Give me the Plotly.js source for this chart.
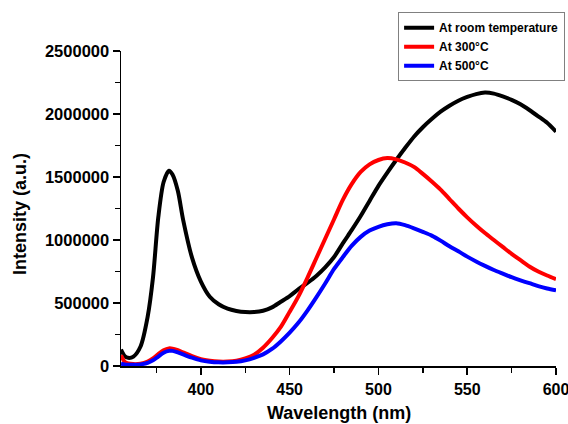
<!DOCTYPE html>
<html>
<head>
<meta charset="utf-8">
<script src="https://cdn.plot.ly/plotly-3.0.1.min.js"></script>
<style>
  html, body { margin: 0; padding: 0; background: #fff; }
  #chart { width: 568px; height: 424px; }
</style>
</head>
<body>
<div id="chart"></div>
<script>
// Photoluminescence spectra, wavelength in nm
const wavelength = [355, 357, 359, 362, 366, 370, 373, 376, 379, 382, 384, 387, 390, 395, 400,
  405, 410, 415, 420, 425, 430, 435, 440, 445, 450, 455, 460, 465, 470, 475, 480, 485, 490,
  495, 500, 505, 510, 515, 520, 525, 530, 535, 540, 545, 550, 555, 560, 565, 570, 575, 580,
  585, 590, 595, 600];

const roomTemp = [130000, 80000, 65000, 75000, 155000, 390000, 700000, 1180000, 1460000, 1550000,
  1520000, 1390000, 1160000, 860000, 670000, 550000, 490000, 455000, 437000, 428000, 428000,
  438000, 465000, 510000, 555000, 610000, 660000, 715000, 783000, 865000, 975000, 1080000,
  1190000, 1310000, 1430000, 1535000, 1635000, 1730000, 1820000, 1895000, 1960000, 2018000,
  2065000, 2105000, 2135000, 2158000, 2170000, 2162000, 2140000, 2112000, 2077000, 2032000,
  1982000, 1930000, 1860000];

const at300 = [85000, 35000, 20000, 15000, 18000, 35000, 60000, 95000, 125000, 140000, 138000,
  125000, 108000, 78000, 55000, 42000, 35000, 35000, 42000, 60000, 90000, 145000, 220000,
  310000, 430000, 555000, 700000, 855000, 1010000, 1165000, 1320000, 1445000, 1540000, 1600000,
  1635000, 1650000, 1640000, 1615000, 1580000, 1525000, 1465000, 1400000, 1325000, 1250000,
  1180000, 1115000, 1055000, 1000000, 945000, 890000, 840000, 790000, 750000, 718000, 690000];

const at500 = [18000, 12000, 10000, 10000, 13000, 25000, 45000, 75000, 105000, 120000, 120000,
  108000, 92000, 66000, 45000, 34000, 29000, 29000, 33000, 45000, 65000, 92000, 135000, 195000,
  265000, 345000, 440000, 545000, 655000, 770000, 865000, 955000, 1025000, 1075000, 1105000,
  1125000, 1133000, 1118000, 1093000, 1065000, 1035000, 995000, 950000, 910000, 868000, 830000,
  795000, 762000, 733000, 705000, 680000, 657000, 634000, 615000, 600000];

const seriesNames = ['At room temperature', 'At 300°C', 'At 500°C'];
const seriesColors = ['#000000', '#ff0000', '#0000ff'];
const seriesValues = [roomTemp, at300, at500];

const xTitle = 'Wavelength (nm)';
const yTitle = 'Intensity (a.u.)';

const boldFont = { family: 'Liberation Sans, Arial, sans-serif', weight: 'bold', color: '#000' };

const traces = seriesValues.map((vals, i) => ({
  type: 'scatter',
  mode: 'lines',
  x: wavelength,
  y: vals,
  name: seriesNames[i],
  line: { color: seriesColors[i], width: 4, shape: 'spline', smoothing: 0.8 }
}));

const layout = {
  width: 568,
  height: 424,
  margin: { l: 121, r: 12, t: 51, b: 58, autoexpand: false },
  paper_bgcolor: '#ffffff',
  plot_bgcolor: '#ffffff',
  showlegend: true,
  legend: {
    x: 0.637, y: 1.123, xanchor: 'left', yanchor: 'top',
    bgcolor: '#ffffff', bordercolor: '#808080', borderwidth: 1,
    font: Object.assign({}, boldFont, { size: 12 }),
    tracegroupgap: 0
  },
  xaxis: {
    range: [355, 600],
    dtick: 50,
    tick0: 0,
    showgrid: false,
    zeroline: false,
    showline: true,
    linecolor: '#000',
    linewidth: 1.5,
    ticks: 'outside',
    ticklen: 7,
    tickwidth: 1.5,
    tickcolor: '#000',
    ticklabelstandoff: 1,
    ticklabeloverflow: 'allow',
    minor: { dtick: 25, ticks: 'outside', ticklen: 5, tickwidth: 1.5, tickcolor: '#000' },
    tickfont: Object.assign({}, boldFont, { size: 16 }),
    automargin: false
  },
  yaxis: {
    range: [0, 2500000],
    dtick: 500000,
    tickformat: 'd',
    showgrid: false,
    zeroline: false,
    showline: true,
    linecolor: '#000',
    linewidth: 1.5,
    ticks: 'outside',
    ticklen: 7,
    tickwidth: 1.5,
    tickcolor: '#000',
    minor: { dtick: 250000, ticks: 'outside', ticklen: 5, tickwidth: 1.5, tickcolor: '#000' },
    tickfont: Object.assign({}, boldFont, { size: 16.5 }),
    automargin: false
  },
  // axis titles placed as paper annotations so they sit close to the page edges
  annotations: [
    {
      text: xTitle, xref: 'paper', yref: 'paper', x: 0.5, y: -0.149,
      xanchor: 'center', yanchor: 'middle', showarrow: false,
      font: Object.assign({}, boldFont, { size: 18 })
    },
    {
      text: yTitle, xref: 'paper', yref: 'paper', x: -0.232, y: 0.483,
      xanchor: 'center', yanchor: 'middle', showarrow: false, textangle: -90,
      font: Object.assign({}, boldFont, { size: 18 })
    }
  ]
};

Plotly.newPlot('chart', traces, layout, { displayModeBar: false, staticPlot: true });
</script>
</body>
</html>
